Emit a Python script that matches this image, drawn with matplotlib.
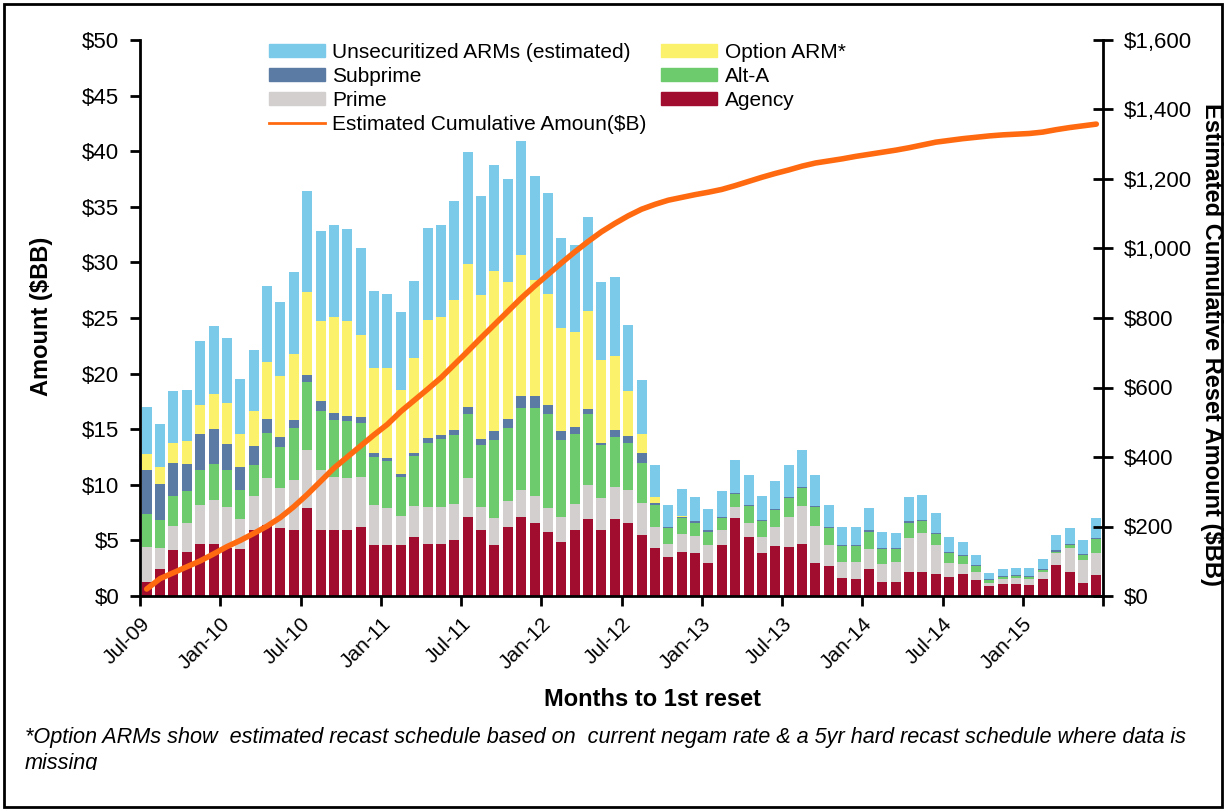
import numpy as np
import matplotlib.pyplot as plt
from matplotlib.patches import Rectangle, Patch
from matplotlib.lines import Line2D
from matplotlib.ticker import FuncFormatter

plt.rcParams['font.family'] = ['Liberation Sans', 'DejaVu Sans']

# tick labels every 6 months, first month Jul-09, 72 months in total
tick_labels = ["Jul-09", "Jan-10", "Jul-10", "Jan-11", "Jul-11", "Jan-12",
               "Jul-12", "Jan-13", "Jul-13", "Jan-14", "Jul-14", "Jan-15"]

# monthly reset amounts ($BB), stacked bottom to top
agency = [1.3, 2.4, 4.1, 4.0, 4.7, 4.7, 4.3, 4.2, 5.9, 6.4, 6.1, 5.9,
          7.9, 5.9, 5.9, 5.9, 6.2, 4.6, 4.6, 4.6, 5.3, 4.7, 4.7, 5.0,
          7.1, 5.9, 4.6, 6.2, 7.1, 6.6, 5.8, 4.9, 5.9, 6.9, 5.9, 6.9,
          6.6, 5.5, 4.3, 3.5, 4.0, 3.9, 3.0, 4.6, 7.0, 5.3, 3.9, 4.5,
          4.4, 4.7, 3.0, 2.7, 1.6, 1.5, 2.4, 1.3, 1.3, 2.2, 2.2, 2.0,
          1.7, 2.0, 1.4, 0.9, 1.1, 1.1, 1.0, 1.5, 2.8, 2.2, 1.2, 1.9]
prime = [3.1, 1.9, 2.2, 2.6, 3.5, 3.9, 3.7, 2.7, 3.1, 4.2, 3.6, 4.5,
         5.2, 5.4, 4.8, 4.7, 4.5, 3.6, 3.3, 2.6, 2.8, 3.3, 3.3, 3.3,
         3.5, 2.1, 2.4, 2.3, 2.4, 2.4, 2.1, 2.2, 2.4, 3.1, 2.9, 2.9,
         2.9, 2.9, 1.9, 1.2, 1.6, 1.5, 1.6, 1.3, 1.0, 1.3, 1.4, 1.7,
         2.7, 3.4, 3.3, 1.9, 1.5, 1.6, 1.8, 1.6, 1.8, 3.0, 3.5, 2.6,
         1.3, 0.9, 0.8, 0.3, 0.4, 0.5, 0.5, 0.7, 1.1, 2.1, 2.0, 2.0]
alt_a = [3.0, 2.5, 2.7, 2.8, 3.1, 3.3, 3.3, 2.6, 2.8, 4.1, 3.7, 4.7,
         6.1, 5.3, 5.1, 5.1, 4.9, 4.3, 4.2, 3.5, 4.5, 5.8, 6.1, 6.2,
         5.8, 5.6, 7.0, 6.6, 7.4, 7.9, 8.5, 6.9, 6.3, 6.4, 4.8, 4.5,
         4.3, 3.6, 2.0, 1.4, 1.4, 1.2, 1.2, 1.1, 1.2, 1.5, 1.4, 1.5,
         1.7, 1.6, 1.7, 1.5, 1.4, 1.4, 1.6, 1.3, 1.1, 1.4, 1.0, 1.0,
         0.9, 0.7, 0.5, 0.2, 0.2, 0.2, 0.2, 0.1, 0.1, 0.3, 0.5, 1.2]
subprime = [3.9, 3.3, 3.0, 2.5, 3.3, 3.1, 2.4, 2.1, 1.7, 1.2, 0.9, 0.7,
            0.7, 0.9, 0.7, 0.5, 0.5, 0.4, 0.3, 0.3, 0.3, 0.4, 0.4, 0.4,
            0.6, 0.5, 0.8, 0.8, 1.1, 1.1, 0.8, 0.8, 0.6, 0.4, 0.2, 0.6,
            0.6, 0.9, 0.2, 0.1, 0.1, 0.1, 0.1, 0.1, 0.1, 0.1, 0.1, 0.1,
            0.1, 0.1, 0.1, 0.1, 0.1, 0.1, 0.1, 0.1, 0.1, 0.1, 0.1, 0.1,
            0.1, 0.1, 0.1, 0.1, 0.1, 0.1, 0.1, 0.1, 0.1, 0.1, 0.1, 0.1]
option_arm = [1.5, 1.5, 1.8, 2.0, 2.6, 3.2, 3.7, 3.0, 3.1, 5.1, 5.5, 6.0,
              7.4, 7.2, 8.6, 8.5, 7.4, 7.6, 8.1, 7.5, 8.5, 10.6, 10.6, 11.7,
              12.9, 13.0, 14.4, 12.3, 12.7, 10.4, 10.0, 9.3, 8.5, 8.8, 7.4, 6.7,
              4.0, 1.7, 0.5, 0.0, 0.1, 0.0, 0.0, 0.0, 0.0, 0.0, 0.0, 0.0,
              0.0, 0.0, 0.0, 0.0, 0.0, 0.0, 0.0, 0.0, 0.0, 0.0, 0.0, 0.0,
              0.0, 0.0, 0.0, 0.0, 0.0, 0.0, 0.0, 0.0, 0.0, 0.0, 0.0, 0.0]
unsecuritized = [4.2, 3.9, 4.6, 4.6, 5.7, 6.1, 5.8, 4.9, 5.5, 6.9, 6.6, 7.3,
                 9.1, 8.1, 8.3, 8.3, 7.8, 6.9, 6.7, 7.0, 6.9, 8.3, 8.3, 8.9,
                 10.0, 8.9, 9.6, 9.3, 10.2, 9.4, 9.0, 8.1, 7.9, 8.5, 7.0, 7.1,
                 6.0, 4.8, 2.9, 2.0, 2.4, 2.2, 1.9, 2.3, 2.9, 2.7, 2.2, 2.5,
                 2.9, 3.3, 2.8, 2.0, 1.6, 1.6, 2.0, 1.5, 1.4, 2.2, 2.3, 1.8,
                 1.3, 1.2, 0.9, 0.6, 0.6, 0.6, 0.7, 0.9, 1.4, 1.4, 1.2, 1.8]

# estimated cumulative reset amount ($B), right axis
cumulative = [20, 50, 67, 84, 101, 121, 142, 160, 180, 201, 226, 257,
              292, 330, 368, 400, 432, 464, 494, 531, 563, 595, 628, 666,
              704, 743, 781, 819, 857, 892, 925, 958, 990, 1020, 1048, 1072,
              1094, 1113, 1127, 1139, 1147, 1155, 1162, 1170, 1181, 1193, 1205, 1216,
              1226, 1237, 1246, 1252, 1258, 1265, 1271, 1277, 1283, 1290, 1298, 1306,
              1311, 1316, 1320, 1324, 1327, 1329, 1331, 1335, 1342, 1348, 1353, 1358]

fig = plt.figure(figsize=(12.27, 8.11), dpi=100)
ax = fig.add_axes([140 / 1227, 1 - 596 / 811, 963 / 1227, 556 / 811])

x = np.arange(len(agency))
stack = [
    (agency, "Agency", "#A00D2F"),
    (prime, "Prime", "#D3CFCF"),
    (alt_a, "Alt-A", "#6DCB6D"),
    (subprime, "Subprime", "#5C7BA4"),
    (option_arm, "Option ARM*", "#FBF16B"),
    (unsecuritized, "Unsecuritized ARMs (estimated)", "#7CCAEA"),
]
bottom = np.zeros(len(x))
colors = {}
for vals, name, col in stack:
    ax.bar(x, vals, 0.74, bottom=bottom, color=col, linewidth=0)
    bottom += np.array(vals)
    colors[name] = col

ax.set_xlim(-0.5, len(x) - 0.5)
ax.set_ylim(0, 50)
ax.set_yticks(np.arange(0, 51, 5))
ax.yaxis.set_major_formatter(FuncFormatter(lambda v, p: "$%d" % v))
ax.set_xticks(np.arange(-0.5, len(x), 6))
ax.set_xticklabels(tick_labels + [""], rotation=45, ha="right", va="top",
                   rotation_mode="anchor")
ax.tick_params(axis="y", labelsize=16, width=2, length=7, direction="out", pad=8)
ax.tick_params(axis="x", labelsize=15, width=2, length=7, direction="out", pad=6)
ax.spines["top"].set_visible(False)
ax.spines["right"].set_visible(False)
ax.spines["left"].set_linewidth(2)
ax.spines["bottom"].set_linewidth(2)

ax2 = ax.twinx()
ax2.plot(x, cumulative, color="#FF6A10", lw=4, solid_capstyle="round")
ax2.set_ylim(0, 1600)
ax2.set_yticks(np.arange(0, 1601, 200))
ax2.yaxis.set_major_formatter(FuncFormatter(lambda v, p: "${:,.0f}".format(v)))
ax2.tick_params(axis="y", labelsize=16, width=2, length=14, direction="inout", pad=8)
ax2.spines["top"].set_visible(False)
ax2.spines["left"].set_visible(False)
ax2.spines["bottom"].set_visible(False)
ax2.spines["right"].set_linewidth(2)

handles = [
    Patch(color=colors["Unsecuritized ARMs (estimated)"]),
    Patch(color=colors["Subprime"]),
    Patch(color=colors["Prime"]),
    Line2D([], [], color="#FF6A10", lw=2),
    Patch(color=colors["Option ARM*"]),
    Patch(color=colors["Alt-A"]),
    Patch(color=colors["Agency"]),
]
labels = ["Unsecuritized ARMs (estimated)", "Subprime", "Prime",
          "Estimated Cumulative Amoun($B)", "Option ARM*", "Alt-A", "Agency"]
fig.legend(handles, labels, ncol=2, loc="upper left",
           bbox_to_anchor=(254 / 1227, 1 - 28 / 811), frameon=False,
           fontsize=15, handlelength=2.7, handleheight=0.6,
           handletextpad=0.35, labelspacing=0.25, columnspacing=0.7,
           borderpad=0.2)

fig.text(42 / 1227, 1 - 316 / 811, "Amount ($BB)", rotation=90, fontsize=17,
         fontweight="bold", ha="center", va="center")
fig.text(1212 / 1227, 1 - 344 / 811, "Estimated Cumulative Reset Amount ($BB)",
         rotation=270, fontsize=17, fontweight="bold", ha="center", va="center")
fig.text(653 / 1227, 1 - 700 / 811, "Months to 1st reset", fontsize=17,
         fontweight="bold", ha="center", va="center")

fig.text(25 / 1227, 1 - 737 / 811,
         "*Option ARMs show  estimated recast schedule based on  current negam rate "
         "& a 5yr hard recast schedule where data is",
         fontsize=15.6, style="italic", ha="left", va="center")
fig.text(25 / 1227, 1 - 764 / 811, "missing", fontsize=15.6, style="italic",
         ha="left", va="center")
# the footnote box cuts off the second line
fig.patches.append(Rectangle((8 / 1227, 6 / 811), 1210 / 1227, 35 / 811,
                             transform=fig.transFigure, facecolor="white",
                             edgecolor="none", zorder=5))
fig.patches.append(Rectangle((4 / 1227, 4 / 811), 1218 / 1227, 803 / 811,
                             transform=fig.transFigure, fill=False,
                             edgecolor="black", linewidth=2, zorder=6))

fig.savefig("out.png", dpi=100)
